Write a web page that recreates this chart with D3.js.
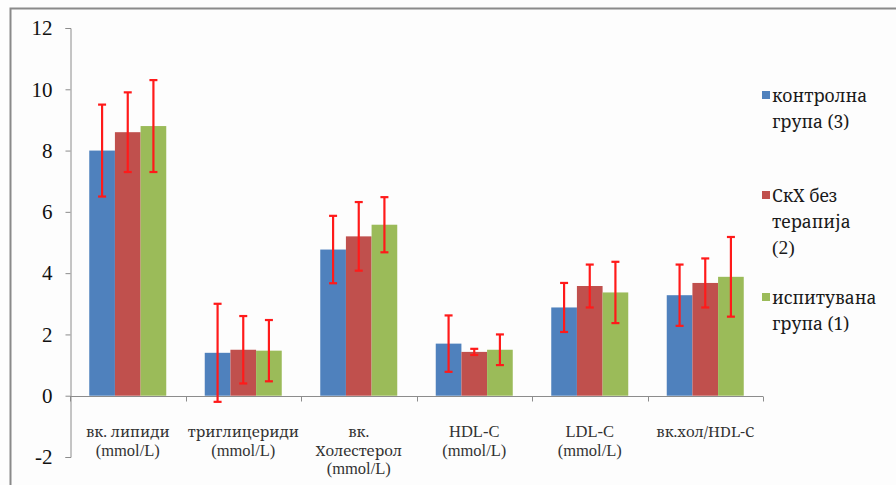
<!DOCTYPE html>
<html>
<head>
<meta charset="utf-8">
<script src="https://cdn.jsdelivr.net/npm/d3@7"></script>
<style>
  html, body { margin: 0; padding: 0; background: #fdfdfd; }
  svg { display: block; }
</style>
</head>
<body>
<svg id="chart" width="896" height="485"></svg>
<script>
// Lipid profile per group: mean values with ± SD error bars
const categories = [
  ["вк. липиди", "(mmol/L)"],
  ["триглицериди", "(mmol/L)"],
  ["вк.", "Холестерол", "(mmol/L)"],
  ["HDL-C", "(mmol/L)"],
  ["LDL-C", "(mmol/L)"],
  ["вк.хол/HDL-C"]
];
const seriesNames = [
  ["контролна", "група (3)"],
  ["СкХ без", "терапија", "(2)"],
  ["испитувана", "група (1)"]
];
const control   = [8.0, 1.40, 4.77, 1.70, 2.88, 3.28];
const untreated = [8.6, 1.50, 5.20, 1.43, 3.58, 3.68];
const studied   = [8.8, 1.47, 5.58, 1.50, 3.37, 3.88];
const controlSd   = [1.5, 1.60, 1.10, 0.92, 0.80, 1.00];
const untreatedSd = [1.3, 1.10, 1.12, 0.10, 0.70, 0.80];
const studiedSd   = [1.5, 1.00, 0.90, 0.50, 1.00, 1.30];
const yTicks = [-2, 0, 2, 4, 6, 8, 10, 12];
const colors = ["#4f81bd", "#c0504d", "#9bbb59"];

const series = [
  { values: control, sd: controlSd },
  { values: untreated, sd: untreatedSd },
  { values: studied, sd: studiedSd }
];

// Latin/digits in a Times-like face, Cyrillic via a serif face that covers it
const FONT = '"Liberation Serif", "Noto Serif", serif';
const CYR_FONT = '"Noto Serif", serif';
const svg = d3.select("#chart");

// outer chart frame
svg.append("path")
  .attr("d", "M10.5,490 L10.5,8.5 L900,8.5")
  .attr("fill", "none").attr("stroke", "#8a8a8a").attr("stroke-width", 2);

const plot = { left: 70, right: 763, top: 28, bottom: 457 };

const y = d3.scaleLinear().domain([-2, 12]).range([plot.bottom, plot.top]);
const x = d3.scaleBand().domain(d3.range(categories.length))
  .range([plot.left, plot.right]).padding(0);
const bandW = x.bandwidth();
const barW = bandW / 4.5;
const xs = d3.scaleBand().domain(d3.range(series.length))
  .range([bandW * 0.75 / 4.5, bandW * 0.75 / 4.5 + 3 * barW]);

// y axis
const yAxis = d3.axisLeft(y).tickValues(yTicks).tickSize(5).tickPadding(13)
  .tickFormat(d => String(d));
const gy = svg.append("g").attr("transform", `translate(${plot.left + 0.5},0)`).call(yAxis);
gy.select(".domain").attr("stroke", "#8c8c8c");
gy.selectAll(".tick line").attr("stroke", "#8c8c8c");
gy.selectAll(".tick text")
  .style("font-family", FONT).style("font-size", "21px").attr("fill", "#111");

// bars
const groups = svg.append("g").selectAll("g")
  .data(series).join("g").attr("fill", (d, i) => colors[i]);
groups.each(function (s, si) {
  d3.select(this).selectAll("rect")
    .data(s.values).join("rect")
    .attr("x", (d, ci) => x(ci) + xs(si))
    .attr("width", barW)
    .attr("y", d => y(d))
    .attr("height", d => y(0) - y(d));
});

// x axis line at zero and category separators
const y0 = Math.round(y(0)) + 0.5;
svg.append("line")
  .attr("x1", plot.left).attr("x2", plot.right).attr("y1", y0).attr("y2", y0)
  .attr("stroke", "#8c8c8c");
const sepX = d3.range(categories.length + 1).map(i => plot.left + i * bandW);
svg.append("g").selectAll("line").data(sepX).join("line")
  .attr("x1", d => Math.round(d) + 0.5).attr("x2", d => Math.round(d) + 0.5)
  .attr("y1", y0).attr("y2", y0 + 5).attr("stroke", "#8c8c8c");

// error bars
const errG = svg.append("g").attr("stroke", "#ff1a1a").attr("stroke-width", 2.2);
series.forEach((s, si) => {
  s.values.forEach((v, ci) => {
    const cx = x(ci) + xs(si) + barW / 2;
    const lo = y(v - s.sd[ci]), hi = y(v + s.sd[ci]);
    errG.append("line").attr("x1", cx).attr("x2", cx).attr("y1", hi).attr("y2", lo);
    errG.append("line").attr("x1", cx - 4).attr("x2", cx + 4).attr("y1", hi).attr("y2", hi);
    errG.append("line").attr("x1", cx - 4).attr("x2", cx + 4).attr("y1", lo).attr("y2", lo);
  });
});

const hasCyr = s => /[\u0400-\u04FF]/.test(s);

// category labels
const lab = svg.append("g").attr("fill", "#333").attr("text-anchor", "middle");
categories.forEach((lines, ci) => {
  const t = lab.append("text").attr("x", x(ci) + bandW / 2).attr("y", 437);
  lines.forEach((ln, li) => {
    t.append("tspan").attr("x", x(ci) + bandW / 2).attr("dy", li ? 18.5 : 0)
      .style("font-family", hasCyr(ln) ? CYR_FONT : FONT)
      .style("font-size", hasCyr(ln) ? "15px" : "16.5px")
      .text(ln);
  });
});

// legend
const legTop = [96, 196, 298];
const leg = svg.append("g").attr("fill", "#1a1a1a");
seriesNames.forEach((lines, si) => {
  leg.append("rect").attr("x", 762).attr("y", legTop[si] - 5).attr("width", 8).attr("height", 8)
    .attr("fill", colors[si]);
  const t = leg.append("text").attr("x", 772).attr("y", legTop[si] + 6);
  lines.forEach((ln, li) => {
    t.append("tspan").attr("x", 772).attr("dy", li ? 26 : 0)
      .style("font-family", hasCyr(ln) ? CYR_FONT : FONT)
      .style("font-size", hasCyr(ln) ? "17.5px" : "19.5px")
      .text(ln);
  });
});
</script>
</body>
</html>
